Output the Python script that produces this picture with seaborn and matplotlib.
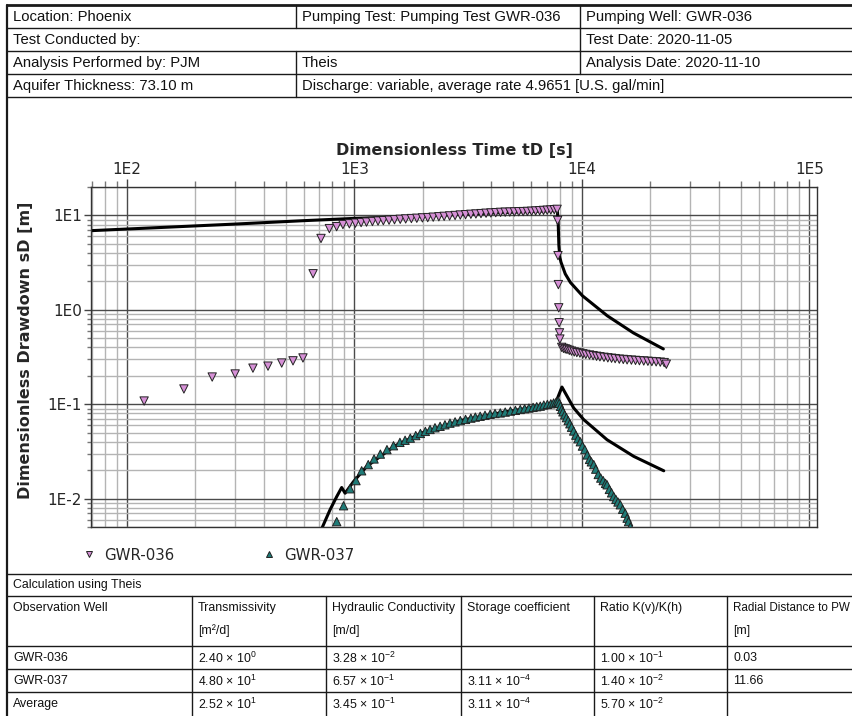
import numpy as np
import pandas as pd
import matplotlib
matplotlib.use('Agg')
import matplotlib.pyplot as plt
import seaborn as sns
from matplotlib.lines import Line2D
from matplotlib.ticker import LogLocator, FuncFormatter, NullFormatter

# ---------------------------------------------------------------------------
# Observed drawdown GWR-036 (early, pumping phase, recovery)
# ---------------------------------------------------------------------------
t_036_early = [119, 178, 237, 299, 358, 417, 479, 537, 594]
s_036_early = [0.108, 0.145, 0.194, 0.209, 0.241, 0.253, 0.273, 0.288, 0.309]

t_036_pump = [658, 713, 776, 835, 890, 950, 1010, 1070, 1130, 1200, 1270, 1340,
              1420, 1500, 1590, 1680, 1780, 1880, 1990, 2100, 2220, 2350, 2480,
              2620, 2770, 2920, 3080, 3250, 3420, 3600, 3790, 3980, 4180, 4390,
              4600, 4820, 5050, 5280, 5520, 5760, 6010, 6260, 6520, 6780, 7040,
              7300, 7560, 7780]
s_036_pump = [2.41, 5.7, 7.25, 7.6, 8.0, 8.15, 8.28, 8.40, 8.50, 8.62, 8.72, 8.80,
              8.90, 9.00, 9.10, 9.18, 9.26, 9.33, 9.42, 9.48, 9.58, 9.68, 9.78,
              9.88, 9.98, 10.10, 10.18, 10.28, 10.36, 10.45, 10.55, 10.62, 10.70, 10.78,
              10.82, 10.86, 10.90, 10.95, 10.98, 11.02, 11.08, 11.15, 11.22, 11.30, 11.36,
              11.42, 11.50, 11.60]

t_036_rec = [7820, 7850, 7880, 7910, 7940, 7970, 8000, 8150, 8300, 8450, 8600,
             8800, 9000, 9250, 9500, 9800, 10100, 10400, 10800, 11200, 11600,
             12000, 12500, 13000, 13500, 14000, 14600, 15200, 15800, 16500, 17200,
             17900, 18700, 19500, 20300, 21200, 22100, 23000, 23500]
s_036_rec = [8.85, 3.75, 1.85, 1.05, 0.73, 0.57, 0.49, 0.40, 0.39, 0.385, 0.38,
             0.372, 0.365, 0.358, 0.352, 0.348, 0.342, 0.337, 0.332, 0.327, 0.322,
             0.318, 0.314, 0.310, 0.307, 0.304, 0.300, 0.298, 0.295, 0.293, 0.291,
             0.289, 0.287, 0.285, 0.283, 0.281, 0.279, 0.276, 0.265]

# ---------------------------------------------------------------------------
# Observed drawdown GWR-037
# ---------------------------------------------------------------------------
t_037_pump = [836, 896, 957, 1016, 1076, 1150, 1220, 1300, 1390, 1485, 1585, 1670,
              1760, 1860, 1950, 2050, 2150, 2260, 2380, 2500, 2630, 2770, 2920,
              3080, 3250, 3400, 3570, 3750, 3950, 4150, 4375, 4600, 4850, 5100,
              5357, 5600, 5850, 6100, 6330, 6560, 6800, 7050, 7300, 7510, 7700, 7870]
s_037_pump = [0.0057, 0.0084, 0.0127, 0.0155, 0.0197, 0.0229, 0.0263, 0.0296, 0.033,
              0.0363, 0.0394, 0.0415, 0.0437, 0.0465, 0.049, 0.0515, 0.054, 0.0563,
              0.0583, 0.0605, 0.063, 0.065, 0.067, 0.069, 0.0712, 0.073, 0.0745,
              0.0763, 0.0782, 0.0797, 0.0808, 0.0825, 0.0845, 0.086, 0.0879, 0.0895,
              0.091, 0.0925, 0.094, 0.0953, 0.098, 0.0995, 0.101, 0.103, 0.105, 0.1077]

t_037_rec = [7950, 8050, 8150, 8250, 8400, 8550, 8700, 8850, 9000, 9200, 9400, 9600,
             9840, 10050, 10300, 10550, 10800, 11000, 11270, 11500, 11800, 12100,
             12400, 12700, 12900, 13200, 13500, 13800, 14100, 14400, 14750, 15100,
             15500, 15800, 16030, 16330]
s_037_rec = [0.102, 0.095, 0.088, 0.083, 0.077, 0.072, 0.067, 0.062, 0.057, 0.052,
             0.047, 0.043, 0.040, 0.036, 0.033, 0.029, 0.026, 0.0245, 0.0229, 0.0205,
             0.018, 0.0165, 0.0155, 0.0145, 0.014, 0.0125, 0.0115, 0.0105, 0.0098,
             0.0092, 0.0086, 0.0077, 0.0070, 0.0062, 0.0057, 0.0050]

# ---------------------------------------------------------------------------
# Theis type curves (fitted)
# ---------------------------------------------------------------------------
t_fit_036 = [70, 150, 300, 600, 1000, 1500, 2500, 4000, 6000, 7800, 7870, 7920,
             8000, 8090, 8450, 8900, 10050, 12940, 16840, 22800]
s_fit_036 = [6.9, 7.5, 8.1, 8.8, 9.3, 9.6, 10.1, 10.6, 11.0, 11.3, 8.0, 4.8,
             3.6, 3.2, 2.4, 1.95, 1.41, 0.863, 0.569, 0.385]

t_fit_037 = [700, 718, 781, 836, 879, 910, 990, 1132, 1500, 2000, 3000, 4500,
             6500, 7700, 8170, 9200, 10180, 12900, 16900, 22900]
s_fit_037 = [0.0035, 0.0048, 0.0076, 0.0105, 0.0131, 0.0114, 0.0151, 0.0219,
             0.036, 0.050, 0.068, 0.082, 0.095, 0.106, 0.152, 0.0912, 0.0687,
             0.042, 0.028, 0.0197]

wells = ['GWR-036', 'GWR-037']
well_colors = {'GWR-036': '#D690D6', 'GWR-037': '#1F7C78'}
well_markers = {'GWR-036': 'v', 'GWR-037': '^'}

# header table text
header_rows = [
    ['Location: Phoenix', 'Pumping Test: Pumping Test GWR-036', 'Pumping Well: GWR-036'],
    ['Test Conducted by:', '', 'Test Date: 2020-11-05'],
    ['Analysis Performed by: PJM', 'Theis', 'Analysis Date: 2020-11-10'],
    ['Aquifer Thickness: 73.10 m', 'Discharge: variable, average rate 4.9651 [U.S. gal/min]', ''],
]

# result table text
result_title = 'Calculation using Theis'
result_cols = ['Observation Well', 'Transmissivity', 'Hydraulic Conductivity',
               'Storage coefficient', 'Ratio K(v)/K(h)', 'Radial Distance to PW']
result_units = ['', '[m²/d]', '[m/d]', '', '', '[m]']
result_rows = [
    ['GWR-036', r'2.40 × 10$^{0}$', r'3.28 × 10$^{-2}$', '', r'1.00 × 10$^{-1}$', '0.03'],
    ['GWR-037', r'4.80 × 10$^{1}$', r'6.57 × 10$^{-1}$', r'3.11 × 10$^{-4}$', r'1.40 × 10$^{-2}$', '11.66'],
    ['Average', r'2.52 × 10$^{1}$', r'3.45 × 10$^{-1}$', r'3.11 × 10$^{-4}$', r'5.70 × 10$^{-2}$', ''],
]

# ---------------------------------------------------------------------------
sns.set_style('white')
plt.rcParams['font.family'] = ['DejaVu Sans']
plt.rcParams['mathtext.fontset'] = 'custom'
plt.rcParams['mathtext.rm'] = 'Liberation Sans'
plt.rcParams['mathtext.it'] = 'Liberation Sans:italic'
plt.rcParams['mathtext.bf'] = 'Liberation Sans:bold'

W, H = 853, 716
fig = plt.figure(figsize=(W / 100, H / 100), dpi=100)
fig.patch.set_facecolor('white')

TABLE_FONT = ['Liberation Sans', 'DejaVu Sans']


def hline(y, x0=7, x1=W, lw=1.0, color='#1a1a1a'):
    fig.add_artist(Line2D([x0 / W, x1 / W], [1 - y / H, 1 - y / H], lw=lw,
                          color=color, transform=fig.transFigure))


def vline(x, y0, y1, lw=1.0, color='#1a1a1a'):
    fig.add_artist(Line2D([x / W, x / W], [1 - y0 / H, 1 - y1 / H], lw=lw,
                          color=color, transform=fig.transFigure))


def cell_text(x, y, s, size):
    fig.text(x / W, 1 - y / H, s, ha='left', va='center', fontsize=size,
             family=TABLE_FONT, color='#111111')


# ---------------------------------------------------------------------------
# plot
# ---------------------------------------------------------------------------
ax = fig.add_axes([91 / W, 1 - 527 / H, (817 - 91) / W, (527 - 187) / H])
ax.set_xscale('log')
ax.set_yscale('log')

df_fit = pd.DataFrame({
    't': t_fit_036 + t_fit_037,
    's': s_fit_036 + s_fit_037,
    'well': ['GWR-036'] * len(t_fit_036) + ['GWR-037'] * len(t_fit_037),
})
t_036 = t_036_early + t_036_pump + t_036_rec
s_036 = s_036_early + s_036_pump + s_036_rec
t_037 = t_037_pump + t_037_rec
s_037 = s_037_pump + s_037_rec
df_obs = pd.DataFrame({
    't': t_036 + t_037,
    's': s_036 + s_037,
    'well': ['GWR-036'] * len(t_036) + ['GWR-037'] * len(t_037),
})

sns.lineplot(data=df_fit, x='t', y='s', units='well', estimator=None, sort=False,
             color='black', lw=2.2, ax=ax, legend=False, zorder=2)
sns.scatterplot(data=df_obs, x='t', y='s', hue='well', style='well',
                hue_order=wells, style_order=wells,
                palette=well_colors, markers=well_markers, s=36,
                edgecolor='#222222', linewidth=0.7, ax=ax, zorder=3)

ax.set_xlim(69.5, 1.08e5)
ax.set_ylim(0.005, 20)

fmt = FuncFormatter(lambda v, p: f'1E{int(round(np.log10(v)))}')
for axis in (ax.xaxis, ax.yaxis):
    axis.set_major_locator(LogLocator(base=10, numticks=12))
    axis.set_minor_locator(LogLocator(base=10, subs=np.arange(2, 10), numticks=40))
    axis.set_major_formatter(fmt)
    axis.set_minor_formatter(NullFormatter())

ax.xaxis.tick_top()
ax.xaxis.set_label_position('top')
ax.tick_params(axis='x', which='major', direction='out', length=6, width=1,
               color='#444444', labelsize=11, pad=1.5, top=True, bottom=False)
ax.tick_params(axis='x', which='minor', direction='out', length=4.5, width=1,
               color='#777777', top=True, bottom=False)
ax.tick_params(axis='y', which='major', direction='out', length=5, width=1,
               color='#444444', labelsize=11, pad=1.5, left=True)
ax.tick_params(axis='y', which='minor', direction='out', length=3, width=1,
               color='#777777', left=True)

ax.grid(which='minor', color='#b4b4b4', lw=1.0)
ax.grid(which='major', color='#4a4a4a', lw=1.0)
ax.set_axisbelow(True)
for sp in ax.spines.values():
    sp.set_color('#333333')
    sp.set_linewidth(1.0)

ax.set_xlabel('Dimensionless Time tD [s]', fontsize=11.5, fontweight='bold')
ax.set_ylabel('Dimensionless Drawdown sD [m]', fontsize=11.5, fontweight='bold')
ax.xaxis.set_label_coords(0.5, 1.094)
ax.yaxis.set_label_coords(-0.08, 0.52)

sns.move_legend(ax, loc='center left', bbox_to_anchor=(82 / W, 1 - 555 / H),
                bbox_transform=fig.transFigure, ncol=2, frameon=False, title=None,
                fontsize=10.8, markerscale=0.75, handlelength=1.0,
                handletextpad=0.5, columnspacing=5.8, borderpad=0, borderaxespad=0)

# ---------------------------------------------------------------------------
# header table
# ---------------------------------------------------------------------------
row_edges = [5, 28, 51, 74, 97]
col_x = [7, 296, 580]
hline(5, lw=2.0)
for y in row_edges[1:]:
    hline(y)
vline(7, 5, H, lw=1.6)
# vertical separators (merged cells skipped)
vline(296, 5, 28)
vline(580, 5, 28)
vline(580, 28, 51)
vline(296, 51, 74)
vline(580, 51, 74)
vline(296, 74, 97)
for r, row in enumerate(header_rows):
    yc = (row_edges[r] + row_edges[r + 1]) / 2 + 0.5
    for c, txt in enumerate(row):
        if txt:
            cell_text(col_x[c] + 6, yc, txt, 10.7)

# ---------------------------------------------------------------------------
# result table
# ---------------------------------------------------------------------------
res_cols_x = [7, 192, 326, 461, 594, 727]
hline(574)
hline(596)
hline(646)
hline(669)
hline(692)
for x in res_cols_x[1:]:
    vline(x, 596, H)
cell_text(13, 585, result_title, 8.9)
for c, name in enumerate(result_cols):
    size = 8.4 if c == len(result_cols) - 1 else 8.9
    cell_text(res_cols_x[c] + 6, 608, name, size)
    if result_units[c]:
        cell_text(res_cols_x[c] + 6, 631, result_units[c], 8.9)
for r, row in enumerate(result_rows):
    yc = [658, 681, 704][r]
    for c, txt in enumerate(row):
        if txt:
            cell_text(res_cols_x[c] + 6, yc, txt, 8.9)

fig.savefig('out.png', dpi=100)
